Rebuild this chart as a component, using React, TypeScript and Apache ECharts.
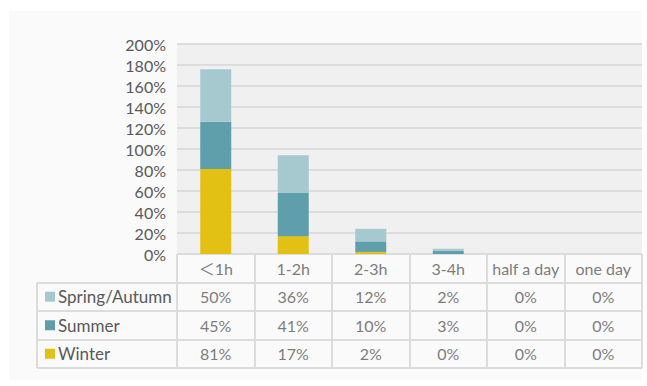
import React, { useEffect, useRef } from "react";
import * as echarts from "echarts";

const categories = ["＜1h", "1-2h", "2-3h", "3-4h", "half a day", "one day"];
const seriesNames = ["Spring/Autumn", "Summer", "Winter"];
const springAutumn = [50, 36, 12, 2, 0, 0];
const summer = [45, 41, 10, 3, 0, 0];
const winter = [81, 17, 2, 0, 0, 0];
const colors: Record<string, string> = {
  "Spring/Autumn": "#a6c9cf",
  Summer: "#5e9fab",
  Winter: "#e2c014",
};
const yTicks = { min: 0, max: 200, interval: 20 };

const FONT = "Lato, 'Noto Sans', 'Noto Sans CJK SC', sans-serif";
const TEXT = "#595959";
const BORDER = "#dcdcdc";

export default function App() {
  const ref = useRef<HTMLDivElement>(null);
  useEffect(() => {
    if (!ref.current) return;
    const chart = echarts.init(ref.current, undefined, { renderer: "svg" });
    const valuesByName: Record<string, number[]> = {
      "Spring/Autumn": springAutumn,
      Summer: summer,
      Winter: winter,
    };
    const tableRows = ["", ...seriesNames];
    const cellData: any[] = [];
    categories.forEach((c, i) => {
      cellData.push({ value: [i, 0], text: c });
      seriesNames.forEach((n, r) => {
        cellData.push({ value: [i, r + 1], text: valuesByName[n][i] + "%" });
      });
    });
    const rich: any = { t: { color: TEXT, fontSize: 17, fontFamily: FONT, padding: [0, 0, 0, 3] } };
    seriesNames.forEach((n, i) => {
      rich["s" + i] = { width: 10, height: 10, backgroundColor: colors[n] };
    });

    chart.setOption({
      animation: false,
      backgroundColor: "#ffffff",
      textStyle: { fontFamily: FONT },
      graphic: [
        {
          type: "rect",
          z: -10,
          shape: { x: 9, y: 11, width: 632, height: 369 },
          style: { fill: "#fafafa" },
          silent: true,
        },
      ],
      grid: [
        { left: 177, right: 5, top: 44, height: 210, show: true, backgroundColor: "#f0f0f0", borderWidth: 0 },
        { left: 177, right: 5, top: 254, height: 114 },
        { left: 37, width: 140, top: 282.5, height: 85.5 },
      ],
      xAxis: [
        {
          type: "category",
          gridIndex: 0,
          data: categories,
          axisLine: { show: false },
          axisTick: { show: false },
          axisLabel: { show: false },
        },
        {
          type: "category",
          gridIndex: 1,
          data: categories,
          axisLine: { show: false },
          axisTick: { show: false },
          axisLabel: { show: false },
          splitLine: { show: true, showMinLine: true, showMaxLine: true, lineStyle: { color: BORDER, width: 2 } },
        },
        {
          type: "category",
          gridIndex: 2,
          data: ["legend"],
          axisLine: { show: false },
          axisTick: { show: false },
          axisLabel: { show: false },
          splitLine: { show: true, showMinLine: true, showMaxLine: true, lineStyle: { color: BORDER, width: 2 } },
        },
      ],
      yAxis: [
        {
          type: "value",
          gridIndex: 0,
          min: yTicks.min,
          max: yTicks.max,
          interval: yTicks.interval,
          axisLine: { show: false },
          axisTick: { show: false },
          axisLabel: {
            formatter: (v: number) => v + "%",
            color: TEXT,
            fontSize: 16,
            fontFamily: FONT,
            margin: 11,
          },
          splitLine: { lineStyle: { color: BORDER, width: 2 } },
        },
        {
          type: "category",
          gridIndex: 1,
          data: tableRows,
          inverse: true,
          axisLine: { show: false },
          axisTick: { show: false },
          axisLabel: { show: false },
          splitLine: { show: true, showMinLine: true, showMaxLine: true, lineStyle: { color: BORDER, width: 2 } },
        },
        {
          type: "category",
          gridIndex: 2,
          data: seriesNames,
          inverse: true,
          axisLine: { show: false },
          axisTick: { show: false },
          axisLabel: {
            inside: true,
            margin: 8,
            formatter: (v: string) => `{s${seriesNames.indexOf(v)}|}{t|${v}}`,
            rich,
          },
          splitLine: { show: true, showMinLine: true, showMaxLine: true, lineStyle: { color: BORDER, width: 2 } },
        },
      ],
      series: [
        ...["Winter", "Summer", "Spring/Autumn"].map((n) => ({
          name: n,
          type: "bar",
          stack: "total",
          xAxisIndex: 0,
          yAxisIndex: 0,
          barWidth: "40%",
          data: valuesByName[n],
          itemStyle: { color: colors[n] },
        })),
        {
          type: "scatter",
          xAxisIndex: 1,
          yAxisIndex: 1,
          symbolSize: 1,
          itemStyle: { color: "transparent" },
          data: cellData,
          label: {
            show: true,
            position: "inside",
            formatter: (p: any) => p.data.text,
            color: TEXT,
            fontSize: 16,
            fontFamily: FONT,
          },
        },
      ],
    });
    return () => chart.dispose();
  }, []);
  return (
    <div
      ref={ref}
      style={{ position: "fixed", left: 0, top: 0, width: 647, height: 386 }}
    />
  );
}
